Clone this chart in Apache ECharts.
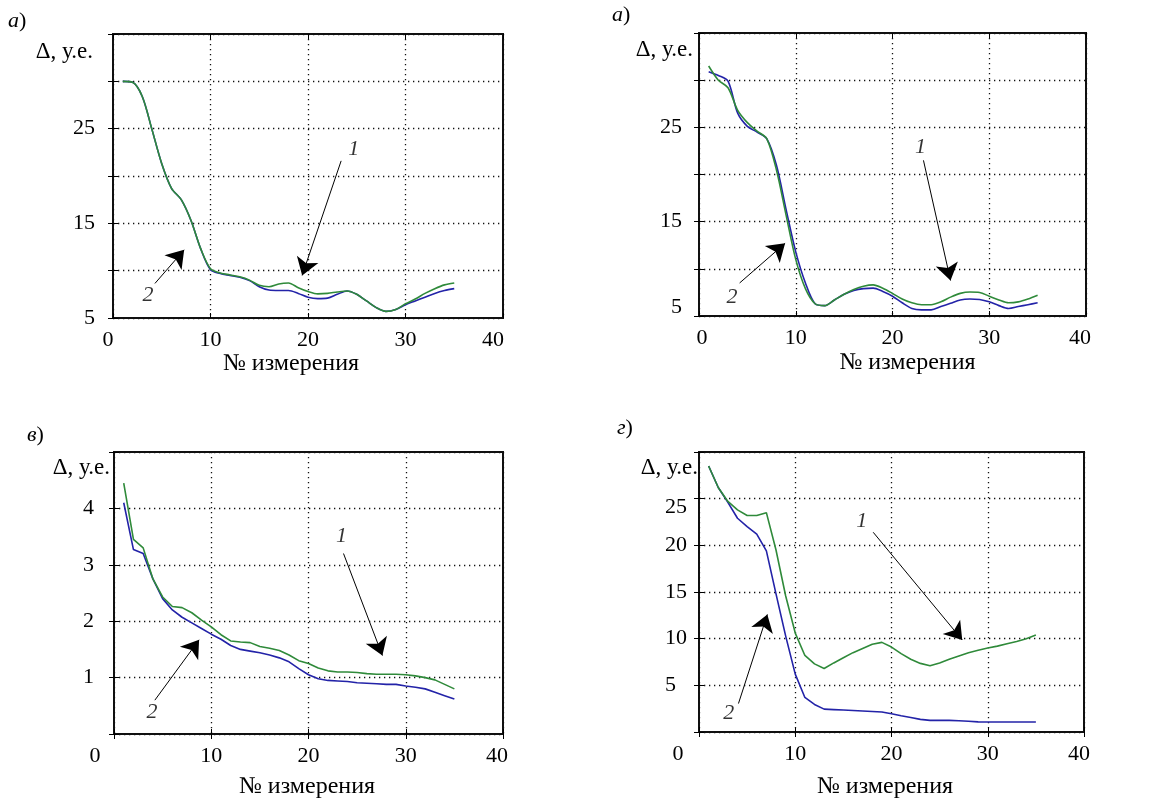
<!DOCTYPE html>
<html><head><meta charset="utf-8">
<script src="https://cdn.jsdelivr.net/npm/echarts@6/dist/echarts.min.js"></script>
<style>html,body{margin:0;padding:0;background:#fff}#c{width:1162px;height:801px}</style>
</head><body><div id="c"></div>
<script>
// ---- data ----
const measure = [1,2,3,4,5,6,7,8,9,10,11,12,13,14,15,16,17,18,19,20,21,22,23,24,25,26,27,28,29,30,31,32,33,34,35];
const xTicks = [0,10,20,30,40];

// panel а) left
const a1 = [30.0,29.9,28.4,24.9,21.3,18.7,17.5,15.3,12.3,10.2,9.75,9.55,9.35,9.0,8.45,8.3,8.6,8.7,8.2,7.8,7.55,7.6,7.75,7.86,7.5,6.8,6.1,5.7,5.9,6.5,7.0,7.6,8.1,8.5,8.7];
const a2 = [30.0,29.9,28.4,24.9,21.3,18.7,17.5,15.3,12.3,10.1,9.7,9.5,9.3,8.95,8.3,7.95,7.9,7.9,7.6,7.2,7.05,7.1,7.5,7.86,7.5,6.8,6.1,5.7,5.9,6.4,6.8,7.2,7.6,7.9,8.1];
const yTicksA = [5,15,25];
const notesA = [['1',24.7,22.8],['2',3.6,7.4]];
const arrowsA = [[23.4,21.6,19.4,9.5],[4.3,8.65,7.3,12.2]];

// panel а) right
const b1 = [31.5,30.0,29.2,26.8,25.5,24.6,23.8,20.5,15.7,11.0,7.9,6.3,6.1,6.7,7.3,7.8,8.15,8.3,7.95,7.4,6.8,6.4,6.2,6.2,6.5,7.0,7.4,7.55,7.5,7.1,6.7,6.4,6.5,6.8,7.2];
const b2 = [30.9,30.5,29.9,26.5,25.1,24.5,23.8,21.0,16.3,11.8,8.5,6.3,6.1,6.7,7.3,7.7,7.9,7.95,7.6,7.1,6.4,5.8,5.65,5.65,6.0,6.35,6.7,6.8,6.75,6.5,6.1,5.8,6.0,6.2,6.4];
const yTicksB = [5,15,25];
const notesB = [['1',22.9,22.9],['2',3.4,7.0]];
const arrowsB = [[23.2,21.5,26.0,8.76],[4.2,8.5,8.9,12.7]];

// panel в)
const c1 = [4.45,3.45,3.3,2.75,2.43,2.26,2.24,2.15,2.02,1.9,1.76,1.65,1.63,1.62,1.55,1.52,1.48,1.4,1.3,1.25,1.17,1.12,1.1,1.1,1.09,1.07,1.06,1.06,1.06,1.05,1.03,1.0,0.96,0.88,0.8];
const c2 = [4.1,3.27,3.2,2.75,2.4,2.2,2.07,1.97,1.87,1.77,1.68,1.57,1.5,1.47,1.44,1.4,1.35,1.28,1.16,1.05,0.98,0.95,0.94,0.93,0.91,0.9,0.89,0.88,0.88,0.85,0.83,0.8,0.74,0.68,0.62];
const yTicksC = [1,2,3,4];
const notesC = [['1',23.4,3.5],['2',3.9,0.38]];
const arrowsC = [[23.6,3.2,27.6,1.39],[4.2,0.6,8.75,1.67]];

// panel г)
const d1 = [28.5,26.2,24.7,23.8,23.2,23.2,23.5,19.5,14.6,10.6,8.2,7.3,6.8,7.4,7.95,8.5,8.95,9.4,9.6,9.1,8.4,7.8,7.35,7.1,7.4,7.8,8.15,8.5,8.75,9.0,9.2,9.45,9.7,10.0,10.4];
const d2 = [28.5,26.2,24.6,22.9,22.0,21.2,19.4,14.8,10.3,6.2,3.7,2.95,2.45,2.4,2.35,2.3,2.25,2.2,2.15,1.95,1.75,1.55,1.35,1.25,1.25,1.25,1.2,1.15,1.08,1.07,1.07,1.07,1.07,1.07,1.07];
const yTicksD = [5,10,15,20,25];
const notesD = [['1',16.9,22.55],['2',3.1,2.0]];
const arrowsD = [[18.1,21.4,27.35,9.86],[4.1,3.05,7.1,12.6]];

const panelLetters = ['а','а','в','г'];
const yName = 'Δ, у.е.';
const xName = '№ измерения';

// ---- layout / styles ----
const FONT = '"Liberation Serif","Times New Roman",serif';
const FS = 22;
const C1 = '#2f8a3a', C2 = '#2323a8';

const panels = [
  {grid:{left:113,top:34,width:390,height:284}, yMin:5,yMax:35,yInt:5, yTicks:yTicksA, s1:a1, s2:a2, smooth:0.3,
   notes:notesA, arrows:arrowsA, lo:[0,10,0,0], hi:[0,20,0,0], yAlign:'right', yMargin:18, sp:null,
   xGap:45, xPad:[0,34,0,0], yGap:-18, yPad:[0,20,0,0], letter:{left:8,top:10}},
  {grid:{left:699,top:33,width:387,height:283}, yMin:5,yMax:35,yInt:5, yTicks:yTicksB, s1:b1, s2:b2, smooth:0.3,
   notes:notesB, arrows:arrowsB, lo:[0,0,0,6], hi:[0,12,0,0], yAlign:'right', yMargin:17, sp:{v:5,pad:[0,0,18,0]},
   xGap:47, xPad:[0,0,0,30], yGap:-17, yPad:[0,6,0,0], letter:{left:612,top:4}},
  {grid:{left:114,top:452,width:389,height:282}, yMin:0,yMax:5,yInt:1, yTicks:yTicksC, s1:c1, s2:c2, smooth:false,
   notes:notesC, arrows:arrowsC, lo:[0,38,0,0], hi:[0,12,0,0], yAlign:'right', yMargin:20, sp:null,
   xGap:53, xPad:[0,3,0,0], yGap:-16, yPad:[0,4,0,0], letter:{left:27,top:424}},
  {grid:{left:699,top:452,width:385,height:280}, yMin:0,yMax:30,yInt:5, yTicks:yTicksD, s1:d1, s2:d2, smooth:false,
   notes:notesD, arrows:arrowsD, lo:[0,42,0,0], hi:[0,10,0,0], yAlign:'left', yMargin:34, sp:{v:25,pad:[18,0,0,0]},
   xGap:55, xPad:[0,13,0,0], yGap:-16, yPad:[0,1,0,0], letter:{left:617,top:417}}
];

const txt = {fontFamily:FONT, fontSize:FS, color:'#000', fontWeight:'normal'};
const split = {show:true, lineStyle:{color:'#111', width:1.3, type:[1.3,3.7]}};
const tick = {show:true, inside:true, length:5, lineStyle:{color:'#000', width:1}};

const option = {animation:false, backgroundColor:'#fff', title:[], grid:[], xAxis:[], yAxis:[], series:[]};

panels.forEach((p, i) => {
  option.grid.push(Object.assign({show:true, borderColor:'#111', borderWidth:2, backgroundColor:'transparent', containLabel:false}, p.grid));
  option.title.push({text:'{i|'+panelLetters[i]+'}{p|)}', left:p.letter.left, top:p.letter.top, padding:0,
    textStyle:{fontWeight:'normal', fontFamily:FONT, fontSize:FS,
      rich:{i:Object.assign({}, txt, {fontStyle:'italic'}), p:Object.assign({}, txt)}}});
  const xFmt = v => v === xTicks[0] ? '{lo|'+v+'}' : v === xTicks[xTicks.length-1] ? '{hi|'+v+'}' : (xTicks.includes(v) ? '{n|'+v+'}' : '');
  option.xAxis.push({type:'value', gridIndex:i, min:xTicks[0], max:xTicks[xTicks.length-1], interval:10, position:'bottom',
    axisLine:{show:false}, axisTick:tick, splitLine:split,
    axisLabel:{margin:11, formatter:xFmt, rich:{n:Object.assign({},txt), lo:Object.assign({padding:p.lo},txt), hi:Object.assign({padding:p.hi},txt)}},
    name:xName, nameLocation:'middle', nameGap:p.xGap, nameTextStyle:Object.assign({}, txt, {fontSize:24, verticalAlign:'middle', padding:p.xPad})});
  option.xAxis.push({type:'value', gridIndex:i, min:xTicks[0], max:xTicks[xTicks.length-1], interval:10, position:'top',
    axisLine:{show:false}, axisTick:tick, splitLine:{show:false}, axisLabel:{show:false}});
  const yFmt = v => !p.yTicks.includes(v) ? '' : (p.sp && v === p.sp.v ? '{s|'+v+'}' : '{n|'+v+'}');
  option.yAxis.push({type:'value', gridIndex:i, min:p.yMin, max:p.yMax, interval:p.yInt, position:'left',
    axisLine:{show:false}, axisTick:tick, splitLine:split,
    axisLabel:{margin:p.yMargin, align:p.yAlign, formatter:yFmt,
      rich:{n:Object.assign({},txt), s:Object.assign({padding:p.sp ? p.sp.pad : 0},txt)}},
    name:yName, nameLocation:'end', nameGap:p.yGap,
    nameTextStyle:Object.assign({}, txt, {fontSize:23, align:'right', verticalAlign:'middle', padding:p.yPad})});
  option.yAxis.push({type:'value', gridIndex:i, min:p.yMin, max:p.yMax, interval:p.yInt, position:'right',
    axisLine:{show:false}, axisTick:tick, splitLine:{show:false}, axisLabel:{show:false}});

  const xi = 2*i, yi = 2*i;
  option.series.push({type:'line', xAxisIndex:xi, yAxisIndex:yi, name:'2', data:measure.map((x,k)=>[x,p.s2[k]]),
    showSymbol:false, smooth:p.smooth, lineStyle:{color:C2, width:1.6}, z:3});
  option.series.push({type:'line', xAxisIndex:xi, yAxisIndex:yi, name:'1', data:measure.map((x,k)=>[x,p.s1[k]]),
    showSymbol:false, smooth:p.smooth, lineStyle:{color:C1, width:1.6}, z:4,
    markLine:{silent:true, symbol:['none','arrow'], symbolSize:17, label:{show:false},
      lineStyle:{color:'#000', width:1, type:'solid'}, emphasis:{disabled:true},
      data:p.arrows.map(a => [{coord:[a[0],a[1]]},{coord:[a[2],a[3]]}])}});
  option.series.push({type:'scatter', xAxisIndex:xi, yAxisIndex:yi, symbolSize:0, silent:true, z:5,
    data:p.notes.map(n => ({name:n[0], value:[n[1],n[2]]})),
    label:{show:true, position:'inside', formatter:'{b}', fontFamily:FONT, fontSize:FS, fontStyle:'italic', color:'#000'}});
});

const chart = echarts.init(document.getElementById('c'), null, {renderer:'canvas'});
chart.setOption(option);
</script>
</body></html>
